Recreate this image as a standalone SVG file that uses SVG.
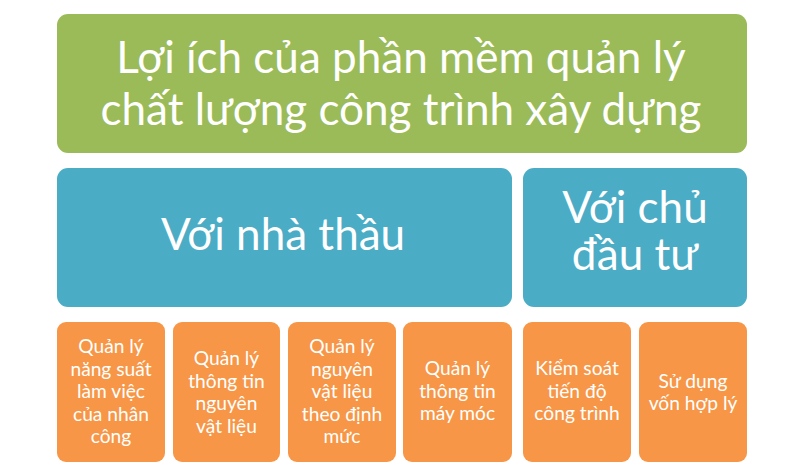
<svg xmlns="http://www.w3.org/2000/svg" width="800" height="471" viewBox="0 0 800 471">
<style>
.t{font-family:Lato,"Open Sans","Noto Sans",sans-serif;fill:#fff;text-anchor:middle}
.title{font-size:44px}
.mid{font-size:44px}
.small{font-size:19.2px}
.green{fill:#9BBB59}
.blue{fill:#4BACC6}
.orange{fill:#F79646}
</style>
<rect width="800" height="471" fill="#fff"/>
<g id="title">
<rect class="green" x="57" y="14" width="690" height="139" rx="11"/>
<text class="t title" x="401" y="73">Lợi ích của phần mềm quản lý</text>
<text class="t title" x="401" y="125">chất lượng công trình xây dựng</text>
</g>
<g id="nha-thau">
<rect class="blue" x="57" y="168" width="455" height="139" rx="11"/>
<text class="t mid" x="283" y="250">Với nhà thầu</text>
</g>
<g id="chu-dau-tu">
<rect class="blue" x="523" y="168" width="224" height="139" rx="11"/>
<text class="t mid" x="635" y="223">Với chủ</text>
<text class="t mid" x="635" y="270">đầu tư</text>
</g>
<g id="b1">
<rect class="orange" x="57" y="322" width="108" height="140" rx="9"/>
<text class="t small" x="111" y="353">Quản lý</text>
<text class="t small" x="111" y="375.5">năng suất</text>
<text class="t small" x="111" y="398">làm việc</text>
<text class="t small" x="111" y="420.5">của nhân</text>
<text class="t small" x="111" y="443">công</text>
</g>
<g id="b2">
<rect class="orange" x="173" y="322" width="107" height="140" rx="9"/>
<text class="t small" x="226.5" y="365">Quản lý</text>
<text class="t small" x="226.5" y="387.5">thông tin</text>
<text class="t small" x="226.5" y="410">nguyên</text>
<text class="t small" x="226.5" y="432.5">vật liệu</text>
</g>
<g id="b3">
<rect class="orange" x="288" y="322" width="108" height="140" rx="9"/>
<text class="t small" x="342" y="353">Quản lý</text>
<text class="t small" x="342" y="375.5">nguyên</text>
<text class="t small" x="342" y="398">vật liệu</text>
<text class="t small" x="342" y="420.5">theo định</text>
<text class="t small" x="342" y="443">mức</text>
</g>
<g id="b4">
<rect class="orange" x="403" y="322" width="109" height="140" rx="9"/>
<text class="t small" x="457.5" y="375">Quản lý</text>
<text class="t small" x="457.5" y="397.5">thông tin</text>
<text class="t small" x="457.5" y="420">máy móc</text>
</g>
<g id="b5">
<rect class="orange" x="523" y="322" width="108" height="140" rx="9"/>
<text class="t small" x="577" y="375">Kiểm soát</text>
<text class="t small" x="577" y="397.5">tiến độ</text>
<text class="t small" x="577" y="420">công trình</text>
</g>
<g id="b6">
<rect class="orange" x="639" y="322" width="108" height="140" rx="9"/>
<text class="t small" x="693" y="387.5">Sử dụng</text>
<text class="t small" x="693" y="410">vốn hợp lý</text>
</g>
<g id="connectors"/>
</svg>
